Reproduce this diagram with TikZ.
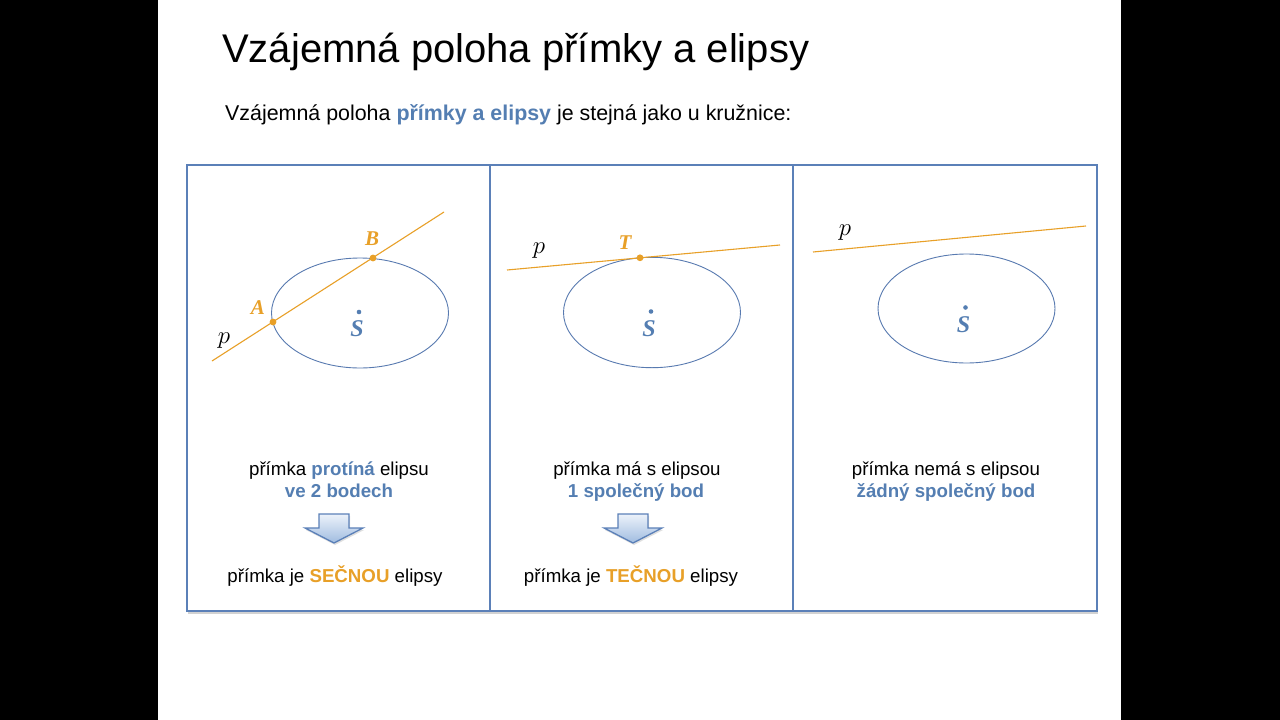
\documentclass[tikz,border=0pt]{standalone}
\usepackage{fontspec}
\setmainfont{Liberation Sans}
\newfontfamily\labelfont{Liberation Serif}
\usetikzlibrary{shadows,positioning}
\definecolor{frameblue}{RGB}{91,128,184}
\definecolor{textblue}{RGB}{84,126,178}
\definecolor{curveblue}{RGB}{88,122,176}
\definecolor{lineorange}{RGB}{232,160,40}
\definecolor{arrowtop}{RGB}{236,242,250}
\definecolor{arrowbottom}{RGB}{160,188,224}
\begin{document}
\begin{tikzpicture}[x=1pt, y=-1pt,
  every node/.style={inner sep=0pt},
  curve/.style={draw=curveblue, line width=0.9pt},
  secant/.style={draw=lineorange, line width=1.1pt},
  ptlabel/.style={text=lineorange, font=\labelfont\fontsize{21}{21}\selectfont\bfseries\itshape},
  slabel/.style={text=textblue, font=\labelfont\fontsize{24}{24}\selectfont\bfseries\itshape},
  plabel/.style={font=\fontsize{28}{28}\selectfont},
  txt/.style={anchor=base, font=\fontsize{18.7}{22}\selectfont},
  downarrow/.style={draw=frameblue, line width=1.3pt, line join=miter, top color=arrowtop, bottom color=arrowbottom,
    drop shadow={opacity=0.25, shadow xshift=1pt, shadow yshift=-2pt}}]
  \fill[black] (0,0) rectangle (1280,720);
  \fill[white] (158,0) rectangle (1121,720);
  \node[anchor=base west, font=\fontsize{40}{48}\selectfont] (title) at (222,62) {Vzájemná poloha přímky a elipsy};
  \node[anchor=base west, font=\fontsize{21.4}{26}\selectfont] (intro) at (225,120)
    {Vzájemná poloha \textcolor{textblue}{\bfseries přímky a elipsy} je stejná jako u kružnice:};
  \draw[frameblue, line width=2pt, fill=white, drop shadow={opacity=0.35, shadow xshift=1pt, shadow yshift=-3pt}]
    (187,165) rectangle (1097,611);
  \draw[frameblue, line width=2pt] (490,165) -- (490,611) (793,165) -- (793,611);
  \foreach \n/\cx/\cy/\ry in {1/360/313/55, 2/652/312.5/55.2, 3/966.5/308.5/54.5} {
    \draw[curve] (\cx,\cy) ellipse [x radius=88.5, y radius=\ry];
    \fill[textblue] (\cx-1,\cy-1) circle (2.3);
    \node[slabel] (s\n) at (\cx-3,\cy+16) {S};
  }
  % secant
  \coordinate (p1a) at (212,361); \coordinate (p1b) at (444,212);
  \draw[secant] (p1a) -- (p1b);
  \fill[lineorange] (273,322) coordinate (A) circle (3.4) (373,258) coordinate (B) circle (3.4);
  \node[ptlabel] (lA) at (258,308) {A};
  \node[ptlabel] (lB) at (372,239) {B};
  \node[plabel] (lp1) at (224,341) {$p$};
  % tangent
  \coordinate (p2a) at (507,270); \coordinate (p2b) at (780,245);
  \draw[secant] (p2a) -- (p2b);
  \fill[lineorange] (640,257.8) coordinate (T) circle (3.4);
  \node[ptlabel] (lT) at (625,243) {T};
  \node[plabel] (lp2) at (539,251) {$p$};
  % passant
  \coordinate (p3a) at (813,252); \coordinate (p3b) at (1086,226);
  \draw[secant] (p3a) -- (p3b);
  \node[plabel] (lp3) at (845,233) {$p$};
  \node[txt] (t1) at (339,475) {přímka \textcolor{textblue}{\bfseries protíná} elipsu};
  \node[txt, text=textblue, font=\fontsize{18.7}{22}\selectfont\bfseries] (t2) at (339,497) {ve 2 bodech};
  \node[txt] (t3) at (335,582) {přímka je \textcolor{lineorange}{\bfseries SEČNOU} elipsy};
  \node[txt] (u1) at (637,475) {přímka má s elipsou};
  \node[txt, text=textblue, font=\fontsize{18.7}{22}\selectfont\bfseries] (u2) at (636,497) {1 společný bod};
  \node[txt] (u3) at (631,582) {přímka je \textcolor{lineorange}{\bfseries TEČNOU} elipsy};
  \node[txt] (v1) at (946,475) {přímka nemá s elipsou};
  \node[txt, text=textblue, font=\fontsize{18.7}{22}\selectfont\bfseries] (v2) at (946,497) {žádný společný bod};
  \foreach \ax in {334,633}
    \path[downarrow] (\ax-15,514) -- (\ax+15,514) -- (\ax+15,528) -- (\ax+29,528) -- (\ax,543)
      -- (\ax-29,528) -- (\ax-15,528) -- cycle;
\end{tikzpicture}
\end{document}
